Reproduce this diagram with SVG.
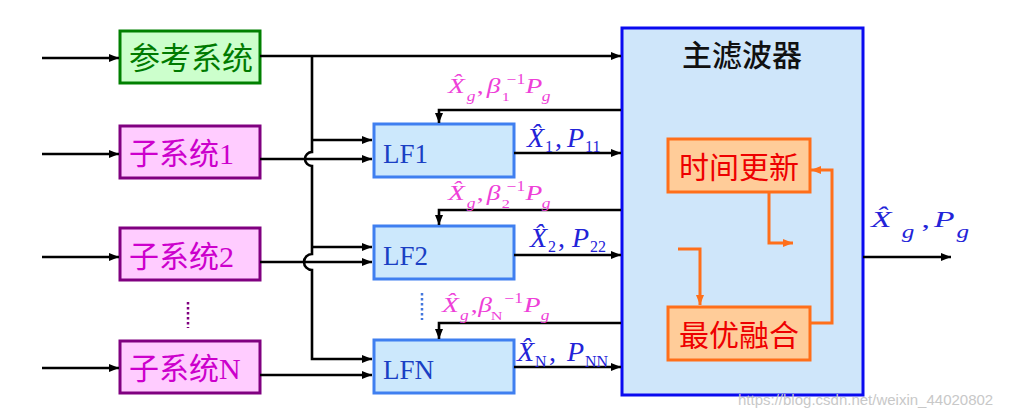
<svg xmlns="http://www.w3.org/2000/svg" width="1019" height="419" viewBox="0 0 1019 419">
<style>
.cn{font-family:"Liberation Serif","Noto Sans CJK SC",serif;font-size:30px}
.ser{font-family:"Liberation Serif",serif}
.it{font-style:italic}
.ln{fill:none;stroke:#000;stroke-width:2.6}
.or{fill:none;stroke:#ff6f1a;stroke-width:3}
.pk{fill:#ee3fd8}
.bl{fill:#2323d8}
.sub{fill:#ffccff;stroke:#800080;stroke-width:3}
.lf{fill:#cce8fc;stroke:#3f7ff0;stroke-width:3}
.upd{fill:#ffcc99;stroke:#ff6f1a;stroke-width:3}
.lft{font-family:"Liberation Serif",serif;font-size:27px;fill:#1a3fc4}
</style>
<defs>
<marker id="ah" markerUnits="userSpaceOnUse" markerWidth="10" markerHeight="8" refX="10" refY="4" orient="auto"><path d="M0,0 L10,4 L0,8 z" fill="#000"/></marker>
<marker id="ao" markerUnits="userSpaceOnUse" markerWidth="10" markerHeight="8" refX="10" refY="4" orient="auto"><path d="M0,0 L10,4 L0,8 z" fill="#ff6f1a"/></marker>
</defs>
<rect width="1019" height="419" fill="#fff"/>

<g id="main-filter">
<rect x="622" y="28" width="241" height="367" fill="#cfe6fa" stroke="#0a0af0" stroke-width="3"/>
<text x="742" y="66" text-anchor="middle" style="font-family:'Noto Sans CJK SC',sans-serif;font-size:30px;font-weight:500" fill="#111">主滤波器</text>
</g>

<g id="ref-sys">
<rect x="120" y="31" width="140" height="52" fill="#ccffcc" stroke="#008000" stroke-width="3"/>
<text x="129" y="69" class="cn" fill="#007a00" style="font-size:31px">参考系统</text>
</g>
<g id="sub1">
<rect x="120" y="126" width="140" height="52" class="sub"/>
<text x="129" y="164" class="cn" fill="#cc00cc">子系统1</text>
</g>
<g id="sub2">
<rect x="120" y="228" width="140" height="52" class="sub"/>
<text x="129" y="267" class="cn" fill="#cc00cc">子系统2</text>
</g>
<g id="subN">
<rect x="120" y="341" width="140" height="52" class="sub"/>
<text x="129" y="379" class="cn" fill="#cc00cc">子系统N</text>
</g>
<line x1="188" y1="302" x2="188" y2="328" stroke="#800080" stroke-width="2.5" stroke-dasharray="2.5,2.5"/>

<g id="lf1">
<rect x="374" y="124" width="140" height="53" class="lf"/>
<text x="383" y="163" class="lft">LF1</text>
</g>
<g id="lf2">
<rect x="374" y="226" width="140" height="53" class="lf"/>
<text x="383" y="265" class="lft">LF2</text>
</g>
<g id="lfN">
<rect x="374" y="340" width="140" height="53" class="lf"/>
<text x="383" y="379" class="lft">LFN</text>
</g>
<line x1="422" y1="293" x2="422" y2="320" stroke="#4477dd" stroke-width="2.5" stroke-dasharray="2.5,2.5"/>

<g id="time-update">
<rect x="668" y="139" width="142" height="53" class="upd"/>
<text x="739" y="178" text-anchor="middle" style="font-family:'Noto Sans CJK SC',sans-serif;font-size:30px" fill="#ee0000">时间更新</text>
</g>
<g id="fusion">
<rect x="668" y="307" width="142" height="53" class="upd"/>
<text x="739" y="346" text-anchor="middle" style="font-family:'Noto Sans CJK SC',sans-serif;font-size:30px" fill="#ee0000">最优融合</text>
</g>

<g id="connectors">
<line x1="42" y1="58" x2="119" y2="58" class="ln" marker-end="url(#ah)"/>
<line x1="42" y1="154" x2="119" y2="154" class="ln" marker-end="url(#ah)"/>
<line x1="42" y1="257" x2="119" y2="257" class="ln" marker-end="url(#ah)"/>
<line x1="42" y1="368" x2="119" y2="368" class="ln" marker-end="url(#ah)"/>
<line x1="260" y1="56" x2="621" y2="56" class="ln" marker-end="url(#ah)"/>
<path d="M312,56 V152 A7,7 0 0 0 312,166 V254 A7,7 0 0 0 312,270 V359 H372" class="ln" marker-end="url(#ah)"/>
<line x1="312" y1="140" x2="372" y2="140" class="ln" marker-end="url(#ah)"/>
<line x1="312" y1="247" x2="372" y2="247" class="ln" marker-end="url(#ah)"/>
<line x1="260" y1="159" x2="372" y2="159" class="ln" marker-end="url(#ah)"/>
<line x1="260" y1="262" x2="372" y2="262" class="ln" marker-end="url(#ah)"/>
<line x1="260" y1="375" x2="372" y2="375" class="ln" marker-end="url(#ah)"/>
<path d="M621,110 H439 V123" class="ln" marker-end="url(#ah)"/>
<path d="M621,210 H439 V225" class="ln" marker-end="url(#ah)"/>
<path d="M621,323 H439 V339" class="ln" marker-end="url(#ah)"/>
<line x1="514" y1="153" x2="621" y2="153" class="ln" marker-end="url(#ah)"/>
<line x1="514" y1="255" x2="621" y2="255" class="ln" marker-end="url(#ah)"/>
<line x1="514" y1="367" x2="621" y2="367" class="ln" marker-end="url(#ah)"/>
<line x1="863" y1="257" x2="951" y2="257" class="ln" marker-end="url(#ah)"/>
<path d="M769,192 V243 H793" class="or" marker-end="url(#ao)"/>
<path d="M678,249 H700 V305" class="or" marker-end="url(#ao)"/>
<path d="M810,323 H832 V170 H811" class="or" marker-end="url(#ao)"/>
</g>

<g id="labels" class="ser">
<g class="pk" transform="translate(448,93) scale(1.25,1)">
<text font-size="22"><tspan x="0" y="0" class="it">X&#x302;</tspan><tspan x="15" y="8" class="it" font-size="14">g</tspan><tspan x="23" y="0">,</tspan><tspan x="31" y="0" class="it">β</tspan><tspan x="43" y="8" font-size="13">1</tspan><tspan x="47" y="-9" font-size="14">−1</tspan><tspan x="62" y="0" class="it">P</tspan><tspan x="75" y="8" class="it" font-size="14">g</tspan></text>
</g>
<g class="pk" transform="translate(448,200) scale(1.25,1)">
<text font-size="22"><tspan x="0" y="0" class="it">X&#x302;</tspan><tspan x="15" y="8" class="it" font-size="14">g</tspan><tspan x="23" y="0">,</tspan><tspan x="31" y="0" class="it">β</tspan><tspan x="43" y="8" font-size="13">2</tspan><tspan x="47" y="-9" font-size="14">−1</tspan><tspan x="62" y="0" class="it">P</tspan><tspan x="75" y="8" class="it" font-size="14">g</tspan></text>
</g>
<g class="pk" transform="translate(442,312) scale(1.25,1)">
<text font-size="22"><tspan x="0" y="0" class="it">X&#x302;</tspan><tspan x="14.5" y="8" class="it" font-size="14">g</tspan><tspan x="23" y="0">,</tspan><tspan x="29" y="0" class="it">β</tspan><tspan x="39" y="8" font-size="13">N</tspan><tspan x="50" y="-9" font-size="14">−1</tspan><tspan x="65.5" y="0" class="it">P</tspan><tspan x="79" y="8" class="it" font-size="14">g</tspan></text>
</g>
<text class="bl" font-size="28"><tspan x="527" y="147" class="it">X&#x302;</tspan><tspan x="545" y="152" font-size="16">1</tspan><tspan x="555" y="147">,</tspan><tspan x="567" y="147" class="it">P</tspan><tspan x="585" y="152" font-size="16">11</tspan></text>
<text class="bl" font-size="28"><tspan x="530" y="247" class="it">X&#x302;</tspan><tspan x="548" y="252" font-size="16">2</tspan><tspan x="558" y="247">,</tspan><tspan x="572" y="247" class="it">P</tspan><tspan x="590" y="252" font-size="16">22</tspan></text>
<text class="bl" font-size="28"><tspan x="517" y="361" class="it">X&#x302;</tspan><tspan x="535" y="367" font-size="16">N</tspan><tspan x="549" y="361">,</tspan><tspan x="567" y="361" class="it">P</tspan><tspan x="585" y="367" font-size="16">NN</tspan></text>
<g class="bl" transform="translate(871,227) scale(1.4,1)">
<text font-size="24"><tspan x="0" y="0" class="it">X&#x302;</tspan><tspan x="22" y="11" class="it" font-size="18">g</tspan><tspan x="36" y="0">,</tspan><tspan x="45" y="0" class="it">P</tspan><tspan x="61" y="11" class="it" font-size="18">g</tspan></text>
</g>
</g>
<text x="738" y="405" style="font-family:'Liberation Sans',sans-serif;font-size:15px" fill="#c8c8c8">https://blog.csdn.net/weixin_44020802</text>
</svg>
